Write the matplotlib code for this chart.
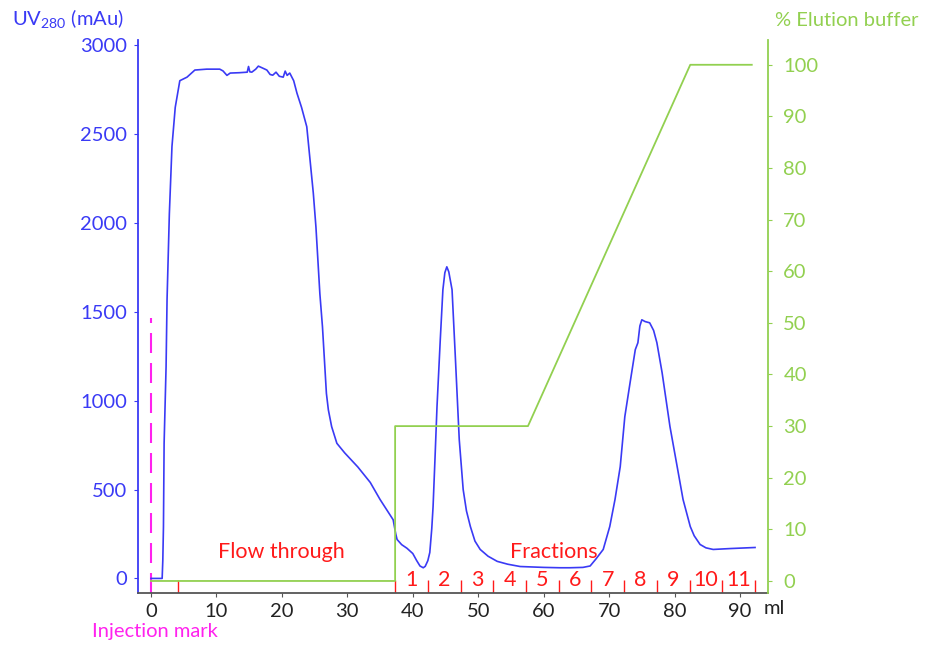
import matplotlib
matplotlib.use("Agg")
import matplotlib.pyplot as plt

# UV trace (ml, mAu)
uv_ml = [0, 1.7, 1.8, 1.9, 2.0, 2.3, 2.45, 2.8, 3.2, 3.7, 4.4, 5.5, 6.7, 8.5, 10.5, 11.0,
         11.6, 12.1, 13.5, 14.7, 14.9, 15.1, 15.4, 16.0, 16.4, 17.0, 17.7, 18.2, 18.6,
         19.1, 19.6, 20.2, 20.5, 20.8, 21.2, 21.8, 22.3, 23.0, 23.8, 24.3, 24.8, 25.2,
         25.5, 25.8, 26.2, 26.5, 26.8, 27.1, 27.6, 28.4, 29.6, 31.6, 33.5, 35.0, 37.0,
         37.4, 37.6, 38.3, 39.1, 40.0, 40.6, 41.1, 41.6, 41.9, 42.3, 42.6, 42.9, 43.1,
         43.4, 43.7, 44.2, 44.6, 44.9, 45.2, 45.5, 46.0, 46.5, 47.1, 47.7, 48.2, 48.8,
         49.5, 50.3, 51.5, 52.9, 54.5, 56.4, 60.0, 62.5, 64.0, 66.0, 67.1, 68.0, 69.1,
         70.1, 70.9, 71.7, 72.4, 73.2, 74.0, 74.4, 74.7, 75.0, 75.5, 76.2, 76.8, 77.3,
         78.1, 79.3, 80.4, 81.3, 82.4, 83.0, 83.9, 84.8, 85.9, 88.5, 92.3]
uv_mau = [0, 0, 100, 290, 760, 1190, 1570, 2050, 2430, 2650, 2800, 2820, 2860, 2865,
          2865, 2855, 2830, 2843, 2845, 2848, 2880, 2850, 2848, 2865, 2882, 2872, 2860,
          2835, 2831, 2848, 2825, 2820, 2854, 2830, 2843, 2800, 2730, 2650, 2541, 2354,
          2167, 1977, 1790, 1602, 1415, 1228, 1041, 948, 854, 760, 706, 627, 540, 444,
          330, 250, 219, 190, 170, 140, 100, 70, 60, 68, 100, 146, 280, 404, 680, 966,
          1343, 1624, 1720, 1753, 1725, 1624, 1247, 781, 500, 380, 292, 210, 163, 125,
          96, 80, 67, 62, 60, 60, 62, 70, 110, 163, 292, 444, 629, 910, 1100, 1287, 1326,
          1420, 1455, 1445, 1438, 1395, 1326, 1157, 854, 629, 444, 292, 240, 191, 172,
          163, 168, 174]

# elution buffer gradient (ml, %)
buf_ml = [0, 37.3, 37.3, 57.6, 82.4, 91.8]
buf_pct = [0, 0, 30, 30, 100, 100]

frac_edges = [37.3, 42.3, 47.3, 52.3, 57.3, 62.3, 67.3, 72.3, 77.3, 82.3, 87.3, 92.3]
frac_labels = [str(i) for i in range(1, 12)]
flow_tick = 4.1
inj_ml = 0
inj_top = 1465

x_ticks = [0, 10, 20, 30, 40, 50, 60, 70, 80, 90]
uv_ticks = [0, 500, 1000, 1500, 2000, 2500, 3000]
buf_ticks = [0, 10, 20, 30, 40, 50, 60, 70, 80, 90, 100]

BLUE = "#3a3af5"
GREEN = "#92d050"
RED = "#ff1a1a"
MAGENTA = "#ff22ee"

plt.rcParams["font.family"] = ["Lato", "DejaVu Sans"]
plt.rcParams["mathtext.default"] = "regular"
FS = 14.5
FS_TXT = 15.5

fig = plt.figure(figsize=(9.36, 6.46), dpi=100)
ax = fig.add_axes([138 / 936, 53 / 646, 630 / 936, 553 / 646])
ax2 = ax.twinx()

ax.plot(uv_ml, uv_mau, color=BLUE, lw=1.2, zorder=3)
ax2.plot(buf_ml, buf_pct, color=GREEN, lw=1.3, zorder=2)

ax.set_xlim(-1.99, 94.28)
ax.set_ylim(-82, 3029)
ax2.set_ylim(-2.33, 104.8)

# injection mark
ax.plot([inj_ml, inj_ml], [-82, inj_top], color=MAGENTA, lw=1.5, dashes=(9.6, 4.8))

# fraction / flow-through tick marks
for e in frac_edges + [flow_tick]:
    ax.plot([e, e], [-82, -10], color=RED, lw=1.0, solid_capstyle="butt")
for i, lab in enumerate(frac_labels):
    mid = (frac_edges[i] + frac_edges[i + 1]) / 2
    ax.text(mid, -10, lab, color=RED, fontsize=FS_TXT, ha="center", va="center")

ax.text(19.9, 150, "Flow through", color=RED, fontsize=FS_TXT, ha="center", va="center")
ax.text(61.6, 150, "Fractions", color=RED, fontsize=FS_TXT, ha="center", va="center")

ax.set_xticks(x_ticks)
ax.set_yticks(uv_ticks)
ax2.set_yticks(buf_ticks)
ax.tick_params(axis="x", colors="#555555", labelcolor="#222222", labelsize=FS, length=3, pad=4)
ax.tick_params(axis="y", colors=BLUE, labelsize=FS, length=3, pad=5)
ax2.tick_params(axis="y", colors=GREEN, labelsize=FS, length=3, pad=8)

for a in (ax, ax2):
    a.spines["top"].set_visible(False)
ax.spines["right"].set_visible(False)
ax2.spines["left"].set_visible(False)
ax2.spines["bottom"].set_visible(False)
ax.spines["left"].set_color(BLUE)
ax.spines["left"].set_linewidth(1.3)
ax2.spines["right"].set_color(GREEN)
ax2.spines["right"].set_linewidth(1.3)
ax.spines["bottom"].set_color("#555555")
ax.spines["bottom"].set_linewidth(1.3)

fig.text(12 / 936, 1 - 18 / 646, "UV$_{280}$ (mAu)", color=BLUE, fontsize=FS,
         ha="left", va="center")
fig.text(775 / 936, 1 - 20 / 646, "% Elution buffer", color=GREEN, fontsize=FS,
         ha="left", va="center")
fig.text(92 / 936, 1 - 631 / 646, "Injection mark", color=MAGENTA, fontsize=FS,
         ha="left", va="center")
fig.text(764 / 936, 1 - 609 / 646, "ml", color="#222222", fontsize=FS,
         ha="left", va="center")

fig.savefig("out.png", dpi=100)
